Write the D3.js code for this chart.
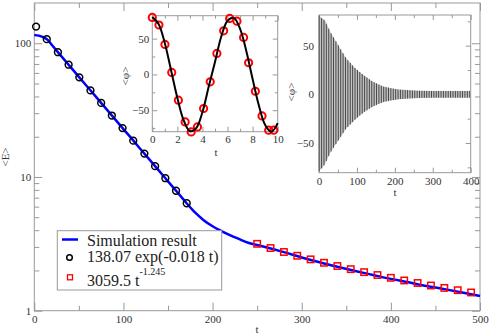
<!DOCTYPE html>
<html lang="en">
<head>
<meta charset="UTF-8"/>
<title>energy decay</title>
<script src="https://d3js.org/d3.v7.min.js"></script>
<style>
    body { margin: 0; background: #fff; }
    svg { font-family: "Liberation Serif", "DejaVu Serif", serif; }
    .frame { fill: none; stroke: #999; stroke-width: 1; }
    .tick line { stroke: #999; }
    .tick text { fill: #333; }
</style>
</head>
<body>
<script>
    // main plot: simulation result <E>(t)
    let simT = [0, 5, 10, 15, 20, 30, 40, 50, 60, 70, 80, 90, 100, 110, 120, 130, 140, 150, 160, 170,
        180, 190, 200, 210, 220, 230, 240, 250, 260, 280, 300, 320, 340, 360, 380, 400, 420, 440, 460, 480, 500];
    let simE = [115.5, 114, 111, 106, 96.5, 80.5, 67.2, 56.1, 46.9, 39.2, 32.7, 27.3, 22.8, 19.1, 15.9, 13.3, 11.1, 9.28, 7.75, 6.47,
        5.45, 4.75, 4.28, 3.94, 3.66, 3.43, 3.22, 3.1, 2.98, 2.74, 2.5, 2.3, 2.13, 1.98, 1.85, 1.73, 1.63, 1.53, 1.45, 1.37, 1.29];

    // exponential fit, circles
    let expT = [2, 14, 26.5, 38.5, 50.5, 63, 75, 87, 99, 111, 123.5, 135.5, 147, 159, 171];
    let expE = [133.2, 107.3, 85.7, 69.1, 55.6, 44.4, 35.8, 28.8, 23.2, 18.7, 14.95, 12.05, 9.79, 7.89, 6.36];

    // power law fit, squares
    let powT = [250, 265, 280, 295, 310, 325, 340, 355, 370, 385, 400, 415, 430, 445, 460, 475, 490];
    let powE = [3.163, 2.942, 2.748, 2.575, 2.42, 2.282, 2.158, 2.045, 1.942, 1.848, 1.762, 1.683, 1.611, 1.543, 1.481, 1.423, 1.369];

    let legendLabels = ["Simulation result", "138.07 exp(-0.018 t)", "3059.5 t", "-1.245"];

    // left inset: <phi>(t) for short times
    let phiLineT = [0, 0.5, 1, 1.5, 2, 2.5, 3, 3.5, 4, 4.5, 5, 5.5, 6, 6.5, 7, 7.5, 8, 8.5, 9, 9.5, 10];
    let phiLineV = [80, 70.5, 43.5, 5.5, -33, -64, -79.3, -75, -52.5, -17, 17.5, 53, 75, 79, 63.5, 32.5, -6.5, -43.5, -70.5, -80, -68];
    let phiDotT = [0, 0.53, 1.01, 1.55, 2.08, 2.62, 3.1, 3.6, 4.09, 4.62, 5.15, 5.69, 6.17, 6.75, 7.28, 7.68, 8.22, 8.75, 9.28, 9.68];
    let phiDotV = [79.6, 69, 41.9, 2.8, -36, -66.3, -80.3, -73.3, -47.6, -10.3, 29.3, 60.9, 78.2, 74.4, 51.6, 16.3, -23.5, -58, -77.9, -77.9];

    // right inset: envelope of the <phi>(t) oscillation over long times
    let envT = [0, 5, 15, 30, 50, 70, 95, 120, 140, 170, 210, 260, 300, 350, 400];
    let envHi = [81, 79, 76, 64, 51, 38, 27, 19, 13.5, 8, 5, 3.8, 3.5, 3.5, 3.5];
    let envLo = [-79, -77, -72, -60, -48, -36, -26, -18, -13, -8, -5, -3.8, -3.5, -3.5, -3.5];
    let oscPeriod = 6.3;

    let width = 491, height = 336;

    let svg = d3.select("body").append("svg")
        .attr("width", width)
        .attr("height", height);

    function axis(maker, scale, values, size, fmt, pos, pad, fontSize) {
        let a = maker(scale).tickValues(values).tickSize(size)
            .tickPadding(pad || 3).tickFormat(fmt || (() => ""));
        let g = svg.append("g").attr("transform", pos).call(a);
        g.select(".domain").remove();
        g.attr("font-family", null).attr("font-size", fontSize || 11);
        return g;
    }

    // ---------- main plot ----------
    let x = d3.scaleLinear().domain([0, 500]).range([34.3, 480]);
    let y = d3.scaleLog().domain([1, 200]).range([310.7, 3]);
    let [x0, x1] = x.range(), [y0, y1] = y.range();

    svg.append("rect").attr("class", "frame")
        .attr("x", x0).attr("y", y1).attr("width", x1 - x0).attr("height", y0 - y1);

    let xMajor = [0, 100, 200, 300, 400, 500], xMinor = [50, 150, 250, 350, 450];
    let yMajor = [1, 10, 100], yMinor = [2, 3, 4, 5, 6, 7, 8, 9, 20, 30, 40, 50, 60, 70, 80, 90];
    let fmt = d3.format("d");

    axis(d3.axisBottom, x, xMajor, -8, fmt, `translate(0,${y0})`, 5);
    axis(d3.axisBottom, x, xMinor, -5, null, `translate(0,${y0})`);
    axis(d3.axisTop, x, xMajor, -8, null, `translate(0,${y1})`);
    axis(d3.axisTop, x, xMinor, -5, null, `translate(0,${y1})`);
    axis(d3.axisLeft, y, yMajor, -8, fmt, `translate(${x0},0)`, 3);
    axis(d3.axisLeft, y, yMinor, -5, null, `translate(${x0},0)`);
    axis(d3.axisRight, y, yMajor, -8, null, `translate(${x1},0)`);
    axis(d3.axisRight, y, yMinor, -5, null, `translate(${x1},0)`);

    svg.append("text").attr("x", 257).attr("y", 333)
        .attr("text-anchor", "middle").attr("font-size", 11).attr("fill", "#333").text("t");
    svg.append("text").attr("transform", "translate(9,157) rotate(-90)")
        .attr("text-anchor", "middle").attr("font-size", 11).attr("fill", "#333").text("<E>");

    let simLine = d3.line()
        .x(d => x(d[0]))
        .y(d => y(d[1]))
        .curve(d3.curveMonotoneX);

    svg.append("path")
        .attr("d", simLine(d3.zip(simT, simE)))
        .attr("fill", "none")
        .attr("stroke", "#0000ff")
        .attr("stroke-width", 2.5);

    svg.selectAll(".expdot")
        .data(d3.zip(expT, expE))
        .enter().append("circle")
        .attr("class", "expdot")
        .attr("cx", d => x(d[0]))
        .attr("cy", d => y(d[1]))
        .attr("r", 3.4)
        .attr("fill", "none")
        .attr("stroke", "#000")
        .attr("stroke-width", 1.5);

    svg.selectAll(".powdot")
        .data(d3.zip(powT, powE))
        .enter().append("rect")
        .attr("class", "powdot")
        .attr("x", d => x(d[0]) - 3.2)
        .attr("y", d => y(d[1]) - 3.2)
        .attr("width", 6.4)
        .attr("height", 6.4)
        .attr("fill", "none")
        .attr("stroke", "#ff0000")
        .attr("stroke-width", 1.5);

    // legend
    let lg = svg.append("g");
    lg.append("rect").attr("x", 57.3).attr("y", 230.7).attr("width", 164.4).attr("height", 59.3)
        .attr("fill", "#fff").attr("stroke", "#999");
    lg.append("line").attr("x1", 62).attr("x2", 78).attr("y1", 239.5).attr("y2", 239.5)
        .attr("stroke", "#0000ff").attr("stroke-width", 2.5);
    lg.append("circle").attr("cx", 69.5).attr("cy", 257.5).attr("r", 2.8)
        .attr("fill", "none").attr("stroke", "#000").attr("stroke-width", 1.5);
    lg.append("rect").attr("x", 67.5).attr("y", 274.8).attr("width", 5).attr("height", 5)
        .attr("fill", "none").attr("stroke", "#ff0000").attr("stroke-width", 1.3);
    lg.append("text").attr("x", 87).attr("y", 246).attr("font-size", 16).attr("fill", "#222").text(legendLabels[0]);
    lg.append("text").attr("x", 87).attr("y", 262).attr("font-size", 16).attr("fill", "#222").text(legendLabels[1]);
    let t3 = lg.append("text").attr("x", 87).attr("y", 286).attr("font-size", 16).attr("fill", "#222");
    t3.append("tspan").text(legendLabels[2]);
    t3.append("tspan").attr("dy", -11).attr("font-size", 10).text(legendLabels[3]);

    // ---------- left inset ----------
    let lx = d3.scaleLinear().domain([0, 10]).range([152.3, 277.7]);
    let ly = d3.scaleLinear().domain([-80, 82]).range([131.7, 15.7]);

    svg.append("rect").attr("x", 152.3).attr("y", 15.7).attr("width", 125.4).attr("height", 116)
        .attr("fill", "#fff").attr("stroke", "#999");

    let lxMajor = [0, 2, 4, 6, 8, 10], lxMinor = [1, 3, 5, 7, 9];
    let lyMajor = [-50, 0, 50], lyMinor = [-75, -25, 25, 75];
    axis(d3.axisBottom, lx, lxMajor, -5, fmt, "translate(0,131.7)", 4);
    axis(d3.axisBottom, lx, lxMinor, -3, null, "translate(0,131.7)");
    axis(d3.axisTop, lx, lxMajor, -5, null, "translate(0,15.7)");
    axis(d3.axisTop, lx, lxMinor, -3, null, "translate(0,15.7)");
    axis(d3.axisLeft, ly, lyMajor, -5, fmt, "translate(152.3,0)", 3);
    axis(d3.axisLeft, ly, lyMinor, -3, null, "translate(152.3,0)");
    axis(d3.axisRight, ly, lyMajor, -5, null, "translate(277.7,0)");
    axis(d3.axisRight, ly, lyMinor, -3, null, "translate(277.7,0)");

    svg.append("text").attr("x", 216).attr("y", 156)
        .attr("text-anchor", "middle").attr("font-size", 11).attr("fill", "#333").text("t");
    svg.append("text").attr("transform", "translate(129,76) rotate(-90)")
        .attr("text-anchor", "middle").attr("font-size", 11).attr("fill", "#333").text("<φ>");

    let phiLine = d3.line()
        .x(d => lx(d[0]))
        .y(d => ly(d[1]))
        .curve(d3.curveCatmullRom);

    svg.selectAll(".phidot")
        .data(d3.zip(phiDotT, phiDotV))
        .enter().append("circle")
        .attr("class", "phidot")
        .attr("cx", d => lx(d[0]))
        .attr("cy", d => ly(d[1]))
        .attr("r", 3.6)
        .attr("fill", "none")
        .attr("stroke", "#ff0000")
        .attr("stroke-width", 2);

    svg.append("path")
        .attr("d", phiLine(d3.zip(phiLineT, phiLineV)))
        .attr("fill", "none")
        .attr("stroke", "#000")
        .attr("stroke-width", 2);

    // ---------- right inset ----------
    let rx = d3.scaleLinear().domain([0, 400]).range([319, 470.7]);
    let ry = d3.scaleLinear().domain([-80.5, 81.5]).range([172.7, 15]);

    svg.append("rect").attr("x", 319).attr("y", 15).attr("width", 151.7).attr("height", 157.7)
        .attr("fill", "#fff").attr("stroke", "#999");

    let rxMajor = [0, 100, 200, 300, 400], rxMinor = [50, 150, 250, 350];
    axis(d3.axisBottom, rx, rxMajor, -5, fmt, "translate(0,172.7)", 5);
    axis(d3.axisBottom, rx, rxMinor, -3, null, "translate(0,172.7)");
    axis(d3.axisTop, rx, rxMajor, -5, null, "translate(0,15)");
    axis(d3.axisTop, rx, rxMinor, -3, null, "translate(0,15)");
    axis(d3.axisLeft, ry, lyMajor, -5, fmt, "translate(319,0)", 5);
    axis(d3.axisLeft, ry, lyMinor, -3, null, "translate(319,0)");
    axis(d3.axisRight, ry, lyMajor, -5, null, "translate(470.7,0)");
    axis(d3.axisRight, ry, lyMinor, -3, null, "translate(470.7,0)");

    svg.append("text").attr("x", 395).attr("y", 196)
        .attr("text-anchor", "middle").attr("font-size", 11).attr("fill", "#333").text("t");
    svg.append("text").attr("transform", "translate(295,92) rotate(-90)")
        .attr("text-anchor", "middle").attr("font-size", 11).attr("fill", "#333").text("<φ>");

    let env = d3.zip(envT, envHi, envLo);
    svg.append("path")
        .attr("d", d3.area()
            .x(d => rx(d[0]))
            .y0(d => ry(d[2]))
            .y1(d => ry(d[1]))
            .curve(d3.curveMonotoneX)(env))
        .attr("fill", "#c4c4c4");

    // one stroke per oscillation, spanning the envelope
    let hiAt = d3.scaleLinear().domain(envT).range(envHi);
    let loAt = d3.scaleLinear().domain(envT).range(envLo);
    svg.selectAll(".osc")
        .data(d3.range(0.5, 400, oscPeriod))
        .enter().append("line")
        .attr("class", "osc")
        .attr("x1", d => rx(d)).attr("x2", d => rx(d))
        .attr("y1", d => ry(hiAt(d))).attr("y2", d => ry(loAt(d)))
        .attr("stroke", "#111")
        .attr("stroke-width", 0.7);
</script>
</body>
</html>
